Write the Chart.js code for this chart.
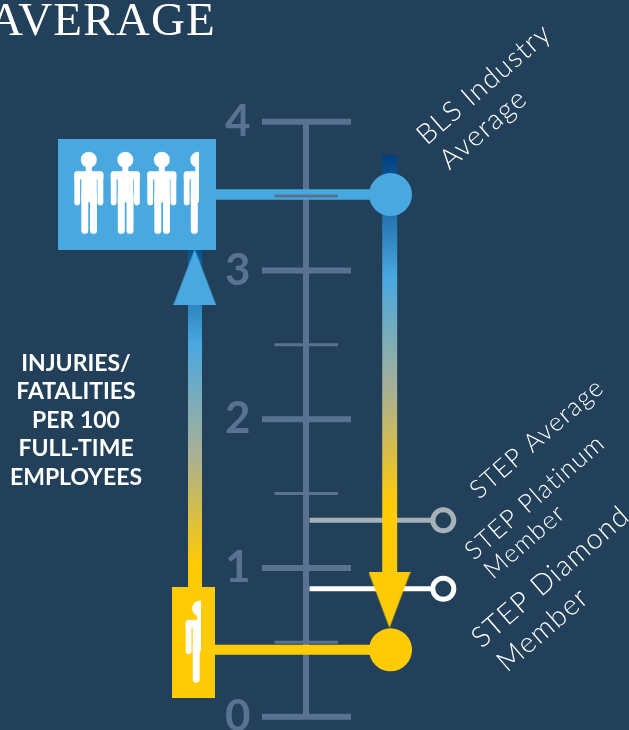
<!DOCTYPE html>
<html>
<head>
<meta charset="utf-8">
<title>Injuries / fatalities per 100 full-time employees</title>
<style>
  html, body { margin: 0; padding: 0; background: #224059; overflow: hidden; }
  canvas { display: block; }
</style>
<script src="https://cdn.jsdelivr.net/npm/chart.js@4"></script>
</head>
<body>
<canvas id="rateChart" width="629" height="730"></canvas>
<script>
// datos
const categories = ["BLS Industry Average", "STEP Average", "STEP Platinum Member", "STEP Diamond Member"];
const rates = [3.51, 1.32, 0.86, 0.45];
const majorTicks = [0, 1, 2, 3, 4];
const minorTicks = [0.5, 1.5, 2.5, 3.5];
const peopleShown = [3.5, 0.5];

const BG = "#224059";
const AXIS = "#5a7292";
const BLUE = "#49a8e0";
const YELLOW = "#ffca06";
const GREY = "#a6b1b8";
const WHITE = "#ffffff";

// gradient stops, in axis units
const rightStops = [[3.775, "#003f7f"], [2.95, BLUE], [2.195, "#a8b095"], [1.436, YELLOW]];
const leftStops = [[3.16, "#00508f"], [2.51, BLUE], [1.77, "#a8b095"], [1.033, YELLOW]];

const personShape = (c) => {
  const part = (x, y, w, h, r) => { c.beginPath(); c.roundRect(x, y, w, h, r); c.fill(); };
  c.beginPath();
  c.arc(14.5, 8, 8, 0, Math.PI * 2);
  c.fill();
  part(11.5, 14, 6, 8, 0);       // cuello
  part(7, 19.5, 15.5, 31, 0);    // torso
  part(0, 19.5, 5.8, 34, [3, 0, 3, 3]);
  part(23.2, 19.5, 5.8, 34, [0, 3, 3, 3]);
  part(0, 19.5, 29, 8, [3, 3, 0, 0]);
  part(7, 40, 7, 42, 3.5);
  part(15.7, 40, 7, 42, 3.5);
};

const peopleBox = (w, h, color, count, startX, topY) => {
  const cv = document.createElement("canvas");
  cv.width = w;
  cv.height = h;
  const c = cv.getContext("2d");
  c.fillStyle = color;
  c.fillRect(0, 0, w, h);
  const whole = Math.floor(count);
  c.save();
  c.beginPath();
  c.rect(0, 0, startX + whole * 36.5 + (count - whole) * 29 + 0.8, h);
  c.clip();
  c.fillStyle = WHITE;
  for (let i = 0; i < Math.ceil(count); i++) {
    c.save();
    c.translate(startX + i * 36.5, topY);
    personShape(c);
    c.restore();
  }
  c.restore();
  return cv;
};

const arrowHead = (w, h, color, up) => {
  const cv = document.createElement("canvas");
  cv.width = w;
  cv.height = h;
  const c = cv.getContext("2d");
  c.fillStyle = color;
  c.beginPath();
  c.moveTo(0, up ? h : 0);
  c.lineTo(w, up ? h : 0);
  c.lineTo(w / 2, up ? 0 : h);
  c.closePath();
  c.fill();
  return cv;
};

const gradientFor = (stops) => (context) => {
  const chart = context.chart;
  const y = chart.scales.y;
  if (!y || !chart.chartArea) return stops[0][1];
  const top = y.getPixelForValue(stops[0][0]);
  const bottom = y.getPixelForValue(stops[stops.length - 1][0]);
  if (!isFinite(top) || !isFinite(bottom)) return stops[0][1];
  const g = chart.ctx.createLinearGradient(0, top, 0, bottom);
  stops.forEach(([v, col]) => g.addColorStop((y.getPixelForValue(v) - top) / (bottom - top), col));
  return g;
};

const line = (points, color, width, extra) => Object.assign({
  data: points,
  showLine: true,
  borderColor: color,
  borderWidth: width,
  backgroundColor: color,
  pointRadius: 0,
  pointHoverRadius: 0,
  pointBorderWidth: 0,
  clip: false
}, extra || {});

const marker = (x, y, style) => ({
  data: [{ x: x, y: y }],
  pointStyle: style,
  pointRadius: 20,
  pointHoverRadius: 20,
  showLine: false,
  clip: false
});

const [blsRate, avgRate, platinumRate, diamondRate] = rates;

// orden de pintado: el primero queda abajo
const layers = [
  line([{ x: 306, y: 0 }, { x: 306, y: 4 }], AXIS, 6),
  ...majorTicks.map((v) => line([{ x: 262, y: v }, { x: 351, y: v }], AXIS, 6)),
  ...minorTicks.filter((v) => v !== 3.5).map((v) => line([{ x: 274.5, y: v }, { x: 338, y: v }], AXIS, 3)),
  line([{ x: 309.5, y: avgRate }, { x: 443.3, y: avgRate }], GREY, 5, {
    pointRadius: [0, 10.5], pointBorderColor: GREY, pointBorderWidth: 5, pointBackgroundColor: BG
  }),
  line([{ x: 309.5, y: platinumRate }, { x: 443.3, y: platinumRate }], WHITE, 5, {
    pointRadius: [0, 10.5], pointBorderColor: WHITE, pointBorderWidth: 5, pointBackgroundColor: BG
  }),
  line([{ x: 195, y: 0.6 }, { x: 195, y: leftStops[0][0] }], gradientFor(leftStops), 14),
  marker(194.7, 2.955, arrowHead(43, 56, BLUE, true)),
  line([{ x: 389.7, y: rightStops[0][0] }, { x: 389.7, y: 0.8 }], gradientFor(rightStops), 15),
  marker(389.5, 0.785, arrowHead(42, 56, YELLOW, false)),
  line([{ x: 215, y: blsRate }, { x: 390.5, y: blsRate }], BLUE, 10.5, { pointRadius: [0, 21.5] }),
  line([{ x: 214, y: diamondRate }, { x: 390.5, y: diamondRate }], YELLOW, 10, { pointRadius: [0, 21.5] }),
  marker(137, blsRate, peopleBox(158, 111, BLUE, peopleShown[0], 16.3, 12.7)),
  marker(193.5, peopleShown[1], peopleBox(43, 111, YELLOW, peopleShown[1], 13.7, 13.7)),
  line([{ x: 274.5, y: 3.5 }, { x: 338, y: 3.5 }], AXIS, 3)
];
layers.forEach((d, i) => { d.order = layers.length - i; });

// textos: titulo, rotulo izquierdo y etiquetas giradas
const rotated = [
  { text: "BLS Industry", x: 426.7, y: 146, size: 28 },
  { text: "Average", x: 449.4, y: 170.7, size: 28 },
  { text: "STEP Average", x: 479, y: 500, size: 25.5 },
  { text: "STEP Platinum", x: 474, y: 561, size: 25.5 },
  { text: "Member", x: 493, y: 580, size: 25 },
  { text: "STEP Diamond", x: 481.7, y: 649, size: 28.5 },
  { text: "Member", x: 507, y: 673, size: 28.5 }
];
const sideLines = ["INJURIES/", "FATALITIES", "PER 100", "FULL-TIME", "EMPLOYEES"];

const textPlugin = {
  id: "textPlugin",
  afterDraw(chart) {
    const c = chart.ctx;
    c.save();
    c.fillStyle = WHITE;
    c.textBaseline = "alphabetic";

    c.font = "47px 'Liberation Serif'";
    c.letterSpacing = "1.2px";
    c.textAlign = "right";
    c.fillText("AVERAGE", 216, 35);

    c.font = "700 23px Lato";
    c.letterSpacing = "0px";
    c.textAlign = "center";
    sideLines.forEach((t, i) => c.fillText(t, 76, 370.5 + i * 28.5));

    c.letterSpacing = "1.2px";
    c.textAlign = "left";
    rotated.forEach((r) => {
      c.save();
      c.font = "300 " + r.size + "px Lato";
      c.translate(r.x, r.y);
      c.rotate(-41 * Math.PI / 180);
      c.fillText(r.text, 0, 0);
      c.restore();
    });
    c.restore();
  }
};

const rateChart = new Chart(document.getElementById("rateChart"), {
  type: "scatter",
  data: { datasets: layers },
  plugins: [textPlugin],
  options: {
    responsive: false,
    animation: false,
    events: [],
    layout: { autoPadding: false, padding: { top: 121.7, bottom: 13.3, left: 0, right: 0 } },
    plugins: { legend: { display: false }, tooltip: { enabled: false } },
    scales: {
      x: { type: "linear", min: 0, max: 629, display: false },
      y: {
        type: "linear",
        min: 0,
        max: 4,
        grid: { display: false, drawTicks: false },
        border: { display: false },
        afterBuildTicks: (scale) => { scale.ticks = majorTicks.map((v) => ({ value: v })); },
        afterFit: (scale) => { scale.width = 0; scale.paddingTop = 0; scale.paddingBottom = 0; },
        ticks: {
          mirror: true,
          padding: 225,
          autoSkip: false,
          color: AXIS,
          font: { family: "Lato", size: 44, weight: "700" }
        }
      }
    }
  }
});
</script>
</body>
</html>
